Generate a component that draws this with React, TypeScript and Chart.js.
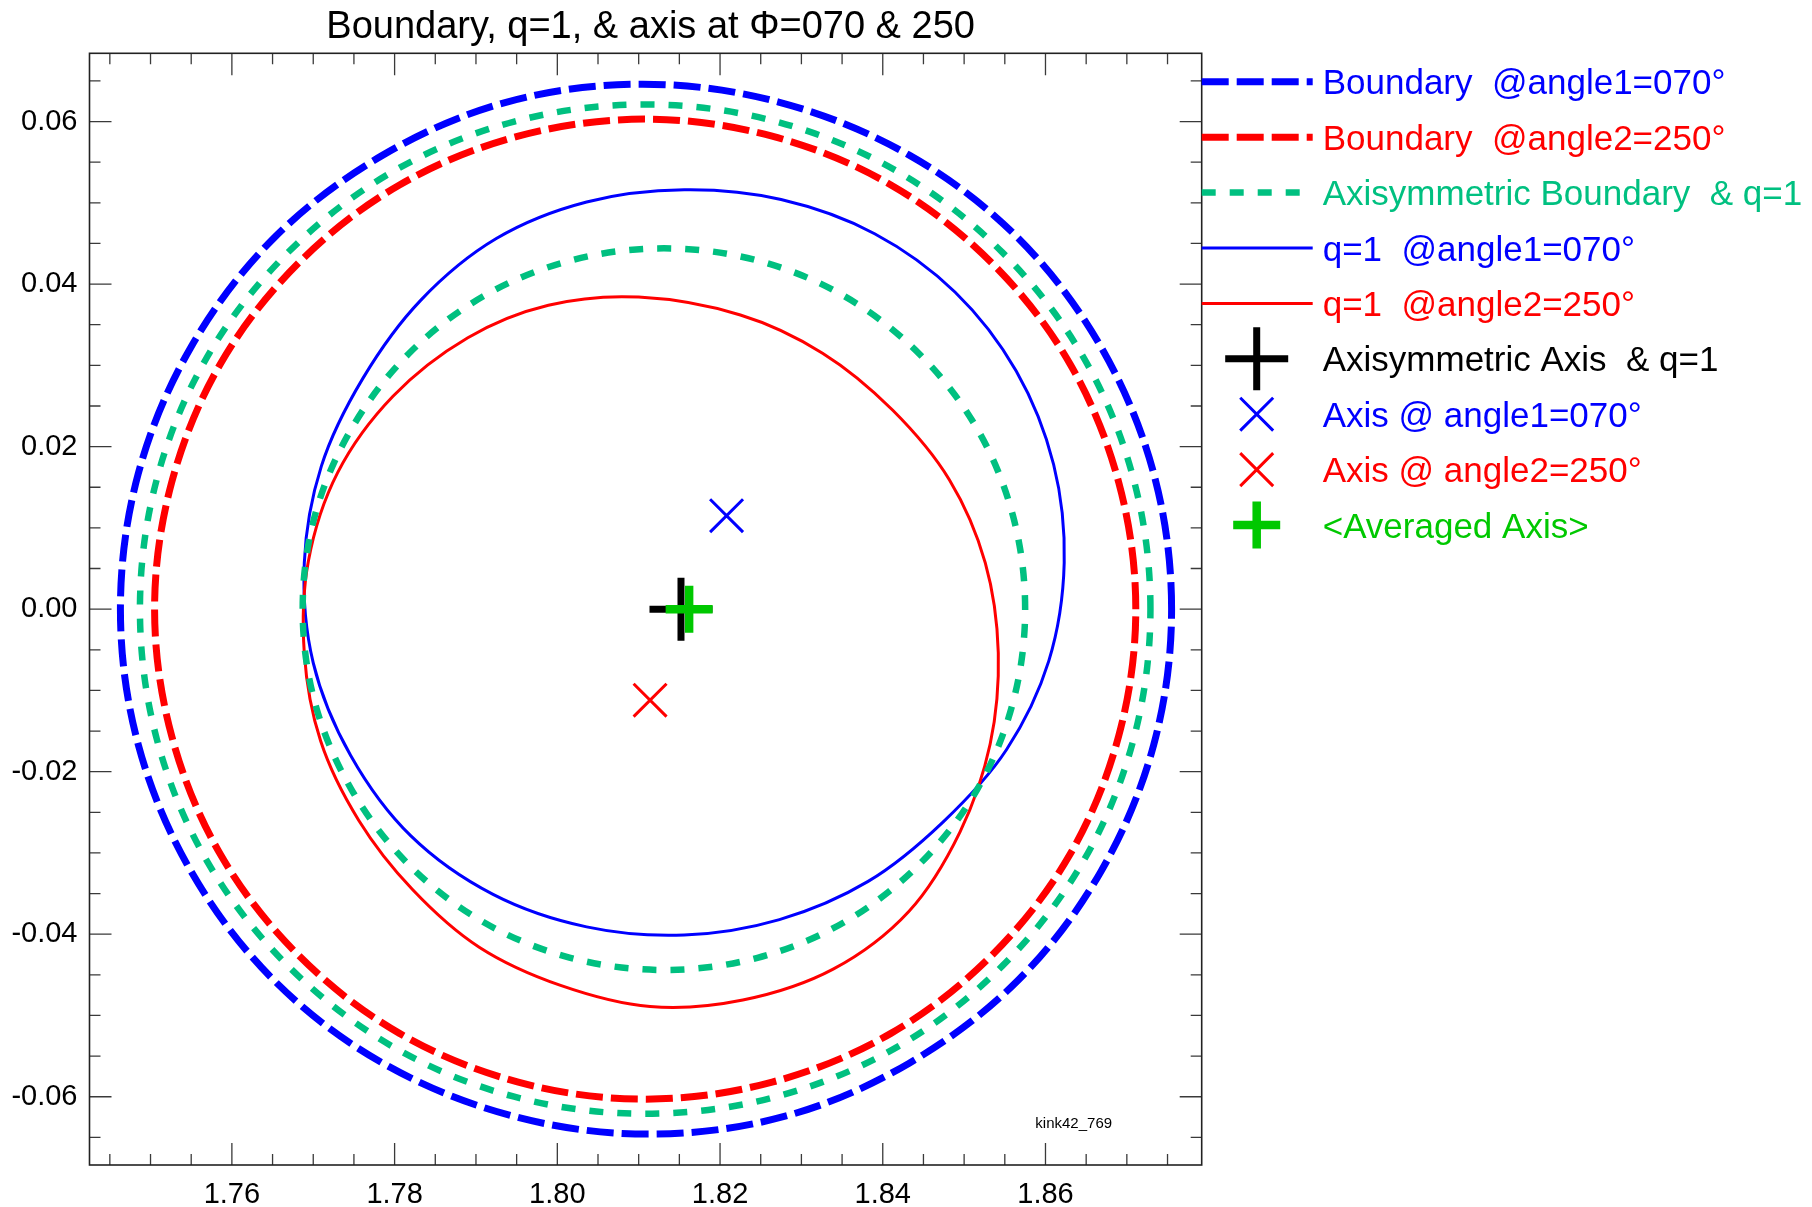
import React, { useEffect, useRef } from 'react';
import { Chart, registerables } from 'chart.js';

Chart.register(...registerables);

// ---------------- data ----------------
const xTickValues = [1.76, 1.78, 1.8, 1.82, 1.84, 1.86];
const xTickLabels = ['1.76', '1.78', '1.80', '1.82', '1.84', '1.86'];
const yTickValues = [-0.06, -0.04, -0.02, 0, 0.02, 0.04, 0.06];
const yTickLabels = ['-0.06', '-0.04', '-0.02', '0.00', '0.02', '0.04', '0.06'];
const xMinorTicks = [1.745, 1.75, 1.755, 1.765, 1.77, 1.775, 1.785, 1.79, 1.795, 1.805, 1.81, 1.815, 1.825, 1.83, 1.835, 1.845, 1.85, 1.855, 1.865, 1.87, 1.875];
const yMinorTicks = [-0.065, -0.055, -0.05, -0.045, -0.035, -0.03, -0.025, -0.015, -0.01, -0.005, 0.005, 0.01, 0.015, 0.025, 0.03, 0.035, 0.045, 0.05, 0.055, 0.065];
const xRange = [1.7425, 1.8792];
const yRange = [-0.0684, 0.0684];

const titleText = 'Boundary, q=1, & axis at \u03A6=070 & 250';
const runLabel = 'kink42_769';

// Boundary @angle1=070 (closed loop)
const boundaryAngle1: number[][] = [
  [1.8755, 0], [1.8733, 0.0167], [1.8668, 0.0323], [1.8566, 0.0457], [1.8432, 0.0559], [1.8272, 0.0624],
  [1.8105, 0.0646], [1.7938, 0.0624], [1.7786, 0.0559], [1.7652, 0.0457], [1.755, 0.0323], [1.7485, 0.0167],
  [1.7463, 0], [1.7485, -0.0167], [1.755, -0.0323], [1.7652, -0.0457], [1.7786, -0.0559], [1.7946, -0.0624],
  [1.8113, -0.0646], [1.828, -0.0624], [1.8432, -0.0559], [1.8566, -0.0457], [1.8668, -0.0323], [1.8733, -0.0167],
];
// Boundary @angle2=250 (closed loop)
const boundaryAngle2: number[][] = [
  [1.8711, 0], [1.869, 0.0156], [1.863, 0.0302], [1.8534, 0.0426], [1.841, 0.0522], [1.8264, 0.0582],
  [1.8108, 0.0603], [1.7952, 0.0582], [1.7806, 0.0522], [1.7682, 0.0426], [1.7586, 0.0302], [1.7526, 0.0156],
  [1.7505, 0], [1.7526, -0.0156], [1.7586, -0.0302], [1.7682, -0.0426], [1.7806, -0.0522], [1.7952, -0.0582],
  [1.8108, -0.0603], [1.8264, -0.0582], [1.841, -0.0522], [1.8534, -0.0426], [1.863, -0.0302], [1.869, -0.0156],
];
// Axisymmetric boundary (closed loop)
const boundaryAxisym: number[][] = [
  [1.8729, 0], [1.8708, 0.0161], [1.8646, 0.0311], [1.8547, 0.0439], [1.8419, 0.0538], [1.8269, 0.06],
  [1.8108, 0.0621], [1.7947, 0.06], [1.7797, 0.0538], [1.7669, 0.0439], [1.757, 0.0311], [1.7508, 0.0161],
  [1.7487, 0], [1.7508, -0.0161], [1.757, -0.0311], [1.7669, -0.0439], [1.7797, -0.0538], [1.7947, -0.06],
  [1.8108, -0.0621], [1.8269, -0.06], [1.8419, -0.0538], [1.8547, -0.0439], [1.8646, -0.0311], [1.8708, -0.0161],
];
// q=1 @angle1=070 (closed loop)
const q1Angle1: number[][] = [
  [1.8623, 0.0057], [1.861, 0.0178], [1.8564, 0.0293], [1.8489, 0.039], [1.839, 0.0462], [1.8275, 0.0504],
  [1.8156, 0.0516], [1.8036, 0.0501], [1.7925, 0.0456], [1.7832, 0.038], [1.7761, 0.0284], [1.771, 0.0176],
  [1.7689, 0.0057], [1.77, -0.0066], [1.7746, -0.018], [1.782, -0.0279], [1.7921, -0.0351], [1.8036, -0.0391],
  [1.8156, -0.0401], [1.8273, -0.0382], [1.8382, -0.0335], [1.8474, -0.0262], [1.8552, -0.0173], [1.8604, -0.0064],
];
// q=1 @angle2=250 (closed loop)
const q1Angle2: number[][] = [
  [1.8542, -0.0054], [1.8526, 0.0057], [1.8482, 0.0159], [1.8412, 0.0245], [1.8326, 0.0315], [1.8225, 0.0362],
  [1.81, 0.0384], [1.7989, 0.0374], [1.789, 0.0334], [1.7798, 0.0262], [1.773, 0.0168], [1.7694, 0.0059],
  [1.7689, -0.0054], [1.7709, -0.0162], [1.7756, -0.026], [1.7822, -0.0345], [1.7904, -0.0416], [1.8004, -0.0463],
  [1.8114, -0.0489], [1.8228, -0.0481], [1.8339, -0.0443], [1.8432, -0.0372], [1.8495, -0.0274], [1.8532, -0.0166],
];
// Axisymmetric q=1 (closed loop)
const q1Axisym: number[][] = [
  [1.8575, 0], [1.856, 0.0115], [1.8516, 0.0222], [1.8445, 0.0314], [1.8353, 0.0385], [1.8246, 0.0429],
  [1.8131, 0.0444], [1.8016, 0.0429], [1.7909, 0.0385], [1.7817, 0.0314], [1.7747, 0.0222], [1.7702, 0.0115],
  [1.7687, 0], [1.7702, -0.0115], [1.7747, -0.0222], [1.7817, -0.0314], [1.7909, -0.0385], [1.8016, -0.0429],
  [1.8131, -0.0444], [1.8246, -0.0429], [1.8353, -0.0385], [1.8445, -0.0314], [1.8516, -0.0222], [1.856, -0.0115],
];
const axisAxisym: number[][] = [[1.8152, 0.0]];
const axisAngle1: number[][] = [[1.8208, 0.0115]];
const axisAngle2: number[][] = [[1.8114, -0.0112]];
const axisAveraged: number[][] = [[1.8162, 0.0]];

// ---------------- styles ----------------
const BLUE = '#0000ff';
const RED = '#ff0000';
const TEAL = '#00c080';
const BLACK = '#000000';
const GREEN = '#00c800';
const FONT = "'Liberation Sans', Arial, Helvetica, sans-serif";

const pts = (arr: number[][]) => arr.map(([x, y]) => ({ x, y }));

const curve = (label: string, arr: number[][], color: string, width: number, dash: number[], order: number, legend: boolean) => ({
  label,
  data: pts(arr),
  showLine: true,
  closed: true,
  borderColor: color,
  backgroundColor: color,
  borderWidth: width,
  borderDash: dash,
  pointRadius: 0,
  pointHoverRadius: 0,
  tension: 0.34,
  fill: false,
  order,
  legendKind: legend ? 'line' : 'none',
});

const marker = (label: string, arr: number[][], color: string, style: string, radius: number, width: number, order: number) => ({
  label,
  data: pts(arr),
  showLine: false,
  pointStyle: style,
  pointRadius: radius,
  pointHoverRadius: radius,
  pointBorderWidth: width,
  pointHoverBorderWidth: width,
  pointBorderColor: color,
  pointBackgroundColor: color,
  borderColor: color,
  backgroundColor: color,
  order,
  legendKind: style,
});

// make the boundary / q=1 curves closed, smooth loops
const loopPlugin = {
  id: 'closedLoops',
  beforeDatasetsDraw(chart: any) {
    chart.data.datasets.forEach((d: any, i: number) => {
      if (!d.closed) return;
      const el = chart.getDatasetMeta(i).dataset;
      if (!el) return;
      el._loop = true;
      el._fullLoop = true;
      delete el._segments;
      el._path = undefined;
      el._pointsUpdated = false;
      if (typeof el.updateControlPoints === 'function') el.updateControlPoints(chart.chartArea, 'x');
    });
  },
};

const decorPlugin = {
  id: 'decor',
  afterDraw(chart: any) {
    const { ctx, chartArea: a, scales } = chart;
    const xs = scales.x;
    const ys = scales.y;
    ctx.save();

    // inward ticks on all four sides
    ctx.strokeStyle = '#3a3a3a';
    ctx.lineWidth = 1.3;
    ctx.beginPath();
    const xt = (v: number, len: number) => {
      const p = xs.getPixelForValue(v);
      ctx.moveTo(p, a.bottom); ctx.lineTo(p, a.bottom - len);
      ctx.moveTo(p, a.top); ctx.lineTo(p, a.top + len);
    };
    const yt = (v: number, len: number) => {
      const p = ys.getPixelForValue(v);
      ctx.moveTo(a.left, p); ctx.lineTo(a.left + len, p);
      ctx.moveTo(a.right, p); ctx.lineTo(a.right - len, p);
    };
    xTickValues.forEach((v) => xt(v, 22));
    xMinorTicks.forEach((v) => xt(v, 11));
    yTickValues.forEach((v) => yt(v, 22));
    yMinorTicks.forEach((v) => yt(v, 11));
    ctx.stroke();

    // frame
    ctx.strokeStyle = '#222';
    ctx.lineWidth = 1.6;
    ctx.strokeRect(a.left, a.top, a.right - a.left, a.bottom - a.top);

    // title
    ctx.fillStyle = BLACK;
    ctx.font = `38px ${FONT}`;
    ctx.textAlign = 'center';
    ctx.textBaseline = 'alphabetic';
    ctx.fillText(titleText, (a.left + a.right) / 2 + 5, a.top - 15);

    // run label
    ctx.font = `15px ${FONT}`;
    ctx.fillText(runLabel, a.right - 128, a.bottom - 37.5);

    // legend
    const ds = chart.data.datasets;
    let row = 0;
    const x0 = a.right;
    const x1 = a.right + 111;
    const xc = a.right + 55;
    const xText = a.right + 121;
    ds.forEach((d: any) => {
      if (d.legendKind === 'none') return;
      const yRow = a.top + 28.5 + row * 55.4;
      row += 1;
      const color = d.borderColor;
      ctx.strokeStyle = color;
      if (d.legendKind === 'line') {
        ctx.lineWidth = d.borderWidth;
        ctx.setLineDash(d.borderDash || []);
        ctx.lineCap = 'butt';
        ctx.beginPath();
        ctx.moveTo(x0, yRow);
        ctx.lineTo(x1, yRow);
        ctx.stroke();
        ctx.setLineDash([]);
      } else if (d.legendKind === 'cross') {
        const r = d.pointRadius;
        ctx.lineWidth = d.pointBorderWidth;
        ctx.beginPath();
        ctx.moveTo(xc - r, yRow); ctx.lineTo(xc + r, yRow);
        ctx.moveTo(xc, yRow - r); ctx.lineTo(xc, yRow + r);
        ctx.stroke();
      } else if (d.legendKind === 'crossRot') {
        const r = d.pointRadius * Math.SQRT1_2;
        ctx.lineWidth = d.pointBorderWidth;
        ctx.beginPath();
        ctx.moveTo(xc - r, yRow - r); ctx.lineTo(xc + r, yRow + r);
        ctx.moveTo(xc + r, yRow - r); ctx.lineTo(xc - r, yRow + r);
        ctx.stroke();
      }
      ctx.fillStyle = color;
      ctx.font = `35px ${FONT}`;
      ctx.textAlign = 'left';
      ctx.textBaseline = 'alphabetic';
      ctx.fillText(d.label, xText, yRow + 12.5);
    });
    ctx.restore();
  },
};

export default function App() {
  const ref = useRef<HTMLCanvasElement | null>(null);

  useEffect(() => {
    document.body.style.margin = '0';
    const canvas = ref.current;
    if (!canvas) return;
    const chart = new Chart(canvas, {
      type: 'scatter',
      data: {
        datasets: [
          curve('Boundary  @angle1=070\u00B0', boundaryAngle1, BLUE, 7, [27, 8], 9, true),
          curve('Boundary  @angle2=250\u00B0', boundaryAngle2, RED, 7, [27, 8], 8, true),
          curve('Axisymmetric Boundary  & q=1', boundaryAxisym, TEAL, 6.5, [14, 14], 7, true),
          curve('q=1  @angle1=070\u00B0', q1Angle1, BLUE, 3, [], 6, true),
          curve('q=1  @angle2=250\u00B0', q1Angle2, RED, 3, [], 5, true),
          curve('Axisymmetric q=1', q1Axisym, TEAL, 6.5, [14, 14], 4, false),
          marker('Axisymmetric Axis  & q=1', axisAxisym, BLACK, 'cross', 31.5, 7, 3),
          marker('Axis @ angle1=070\u00B0', axisAngle1, BLUE, 'crossRot', 23.3, 3, 2),
          marker('Axis @ angle2=250\u00B0', axisAngle2, RED, 'crossRot', 23.3, 3, 1),
          marker('<Averaged Axis>', axisAveraged, GREEN, 'cross', 23.5, 8.5, 0),
        ] as any,
      },
      options: {
        responsive: false,
        animation: false,
        events: [],
        layout: { padding: { top: 53.3, right: 610.3, left: 0, bottom: 0 } },
        plugins: {
          legend: { display: false },
          title: { display: false },
          tooltip: { enabled: false },
        },
        scales: {
          x: {
            type: 'linear',
            position: 'bottom',
            min: xRange[0],
            max: xRange[1],
            grid: { display: false },
            border: { display: false },
            afterBuildTicks: (s: any) => { s.ticks = xTickValues.map((v) => ({ value: v })); },
            afterFit: (s: any) => { s.height = 42; },
            ticks: {
              autoSkip: false,
              maxRotation: 0,
              padding: 5,
              color: BLACK,
              font: { family: FONT, size: 29 },
              callback: (_v: any, i: number) => xTickLabels[i],
            },
          },
          y: {
            type: 'linear',
            position: 'left',
            min: yRange[0],
            max: yRange[1],
            grid: { display: false },
            border: { display: false },
            afterBuildTicks: (s: any) => { s.ticks = yTickValues.map((v) => ({ value: v })); },
            afterFit: (s: any) => { s.width = 89.5; },
            ticks: {
              autoSkip: false,
              padding: 4,
              color: BLACK,
              font: { family: FONT, size: 29 },
              callback: (_v: any, i: number) => yTickLabels[i],
            },
          },
        },
      } as any,
      plugins: [loopPlugin as any, decorPlugin as any],
    });
    return () => chart.destroy();
  }, []);

  return (
    <div style={{ position: 'fixed', left: 0, top: 0, width: 1812, height: 1207, background: '#ffffff' }}>
      <canvas ref={ref} width={1812} height={1207} style={{ display: 'block' }} />
    </div>
  );
}
